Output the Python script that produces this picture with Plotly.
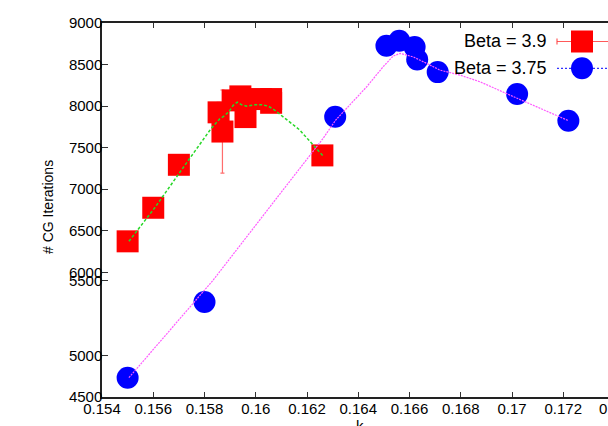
import plotly.graph_objects as go

# ---- data ----
k_b39 = [0.155, 0.156, 0.157, 0.15855, 0.1587, 0.1591, 0.1594, 0.1596, 0.1602, 0.1606, 0.1606, 0.1626]
cg_b39 = [6373, 6777, 7294, 7925, 7694, 8069, 8117, 7868, 8085, 8085, 8040, 7407]
err_b39 = [60, 80, 90, 120, 500, 100, 110, 120, 100, 90, 90, 100]

k_b375 = [0.155, 0.158, 0.1631, 0.1651, 0.1656, 0.1662, 0.1663, 0.1671, 0.1702, 0.1722]
cg_b375 = [4732, 5643, 7872, 8726, 8786, 8710, 8560, 8409, 8145, 7824]

# smoothed guide curves (as drawn)
k_fit39 = [0.15505, 0.15606, 0.15708, 0.15782, 0.15825, 0.15860, 0.15880, 0.15899, 0.15912,
           0.15928, 0.15945, 0.15964, 0.15997, 0.16023, 0.16049, 0.16075, 0.16101, 0.16127,
           0.16172, 0.16224, 0.16261]
cg_fit39 = [6373, 6777, 7222, 7547, 7727, 7848, 7888, 7949, 8009,
            8048, 8016, 8000, 8016, 8016, 8000, 7949, 7888, 7816,
            7712, 7531, 7407]

k_fit375 = [0.15505, 0.15834, 0.16094, 0.16263, 0.16312, 0.16367, 0.16433, 0.16497, 0.16536,
            0.16563, 0.16614, 0.16667, 0.16719, 0.16797, 0.16875, 0.17018, 0.17221]
cg_fit375 = [4732, 5907, 6942, 7612, 7832, 8012, 8233, 8473, 8602,
             8634, 8593, 8514, 8433, 8373, 8293, 8097, 7824]

ytick_vals = [4500, 5000, 5904, 6000, 6500, 7000, 7500, 8000, 8500, 9000]
ytick_text = ["4500", "5000", "5500", "6000", "6500", "7000", "7500", "8000", "8500", "9000"]
xtick_vals = [0.154, 0.156, 0.158, 0.160, 0.162, 0.164, 0.166, 0.168, 0.170, 0.172]
xtick_text = ["0.154", "0.156", "0.158", "0.16", "0.162", "0.164", "0.166", "0.168", "0.17", "0.172"]

FONT = "Liberation Sans, Arial, sans-serif"
W, H = 608, 426
L, T, B = 102, 23, 29
PW, PH = W - L, H - T - B

def px(x):  # pixel -> paper x
    return (x - L) / PW

def py(y):  # pixel -> paper y
    return (H - B - y) / PH

fig = go.Figure()

fig.add_trace(go.Scatter(
    x=k_b39, y=cg_b39, mode="markers", name="Beta = 3.9",
    marker=dict(symbol="square", size=22, color="#ff0000", line=dict(width=0)),
    error_y=dict(type="data", array=err_b39, color="rgba(255,60,60,0.75)", thickness=1.2, width=2),
    showlegend=False,
))
fig.add_trace(go.Scatter(
    x=k_b375, y=cg_b375, mode="markers", name="Beta = 3.75",
    marker=dict(symbol="circle", size=22, color="#0000ff", line=dict(width=0)),
    showlegend=False,
))
fig.add_trace(go.Scatter(
    x=k_fit39, y=cg_fit39, mode="lines",
    line=dict(color="rgb(40,215,40)", width=1.5, dash="3px,2px"),
    showlegend=False, hoverinfo="skip",
))
fig.add_trace(go.Scatter(
    x=k_fit375, y=cg_fit375, mode="lines",
    line=dict(color="rgb(255,90,255)", width=1.2, dash="2px,1px"),
    showlegend=False, hoverinfo="skip",
))

shapes = []
ly1, ly2 = 41.5, 68.3
shapes.append(dict(type="line", xref="paper", yref="paper", x0=px(557), x1=px(612), y0=py(ly1), y1=py(ly1),
                   line=dict(color="rgba(255,60,60,0.85)", width=1.2)))
shapes.append(dict(type="line", xref="paper", yref="paper", x0=px(557), x1=px(557), y0=py(ly1 - 3), y1=py(ly1 + 3),
                   line=dict(color="rgba(255,60,60,0.85)", width=1.2)))
shapes.append(dict(type="rect", xref="paper", yref="paper", x0=px(571), x1=px(593), y0=py(ly1 - 11), y1=py(ly1 + 11),
                   fillcolor="#ff0000", line=dict(width=0)))
shapes.append(dict(type="line", xref="paper", yref="paper", x0=px(557), x1=px(612), y0=py(ly2), y1=py(ly2),
                   line=dict(color="#3030ff", width=1.3, dash="2px,2px")))
shapes.append(dict(type="circle", xref="paper", yref="paper", x0=px(571), x1=px(593), y0=py(ly2 - 11), y1=py(ly2 + 11),
                   fillcolor="#0000ff", line=dict(width=0)))

annotations = [
    dict(text="Beta = 3.9", xref="paper", yref="paper", x=px(549), y=py(ly1), xanchor="right", yanchor="middle",
         showarrow=False, font=dict(family=FONT, size=18, color="black")),
    dict(text="Beta = 3.75", xref="paper", yref="paper", x=px(549), y=py(ly2), xanchor="right", yanchor="middle",
         showarrow=False, font=dict(family=FONT, size=18, color="black")),
    dict(text="# CG Iterations", xref="paper", yref="paper", x=px(48), y=py(207), textangle=-90,
         xanchor="center", yanchor="middle", showarrow=False, font=dict(family=FONT, size=14, color="black")),
    dict(text="k", xref="paper", yref="paper", x=px(360), y=py(415), xanchor="center", yanchor="top",
         showarrow=False, font=dict(family=FONT, size=15, color="black")),
    dict(text="0.174", xref="paper", yref="paper", x=px(618), y=py(398), xanchor="center", yanchor="top",
         showarrow=False, font=dict(family=FONT, size=15, color="black")),
]

fig.update_layout(
    width=W, height=H,
    margin=dict(l=L, r=0, t=T, b=B, pad=0),
    paper_bgcolor="white", plot_bgcolor="white",
    font=dict(family=FONT, size=15, color="black"),
    shapes=shapes, annotations=annotations,
    showlegend=False,
)
fig.update_xaxes(
    range=[0.154, 0.154 + PW / 25625.0], tickvals=xtick_vals, ticktext=xtick_text,
    ticks="inside", ticklen=5, tickwidth=1, tickcolor="#333",
    showline=True, linecolor="#222", linewidth=1.5, mirror="ticks",
    showgrid=False, zeroline=False, tickfont=dict(family=FONT, size=15, color="black"),
    ticklabelstandoff=-3,
)
fig.update_yaxes(
    range=[4500, 9000], tickvals=ytick_vals, ticktext=ytick_text,
    ticks="inside", ticklen=6, tickwidth=1, tickcolor="#333",
    showline=True, linecolor="#222", linewidth=1.5,
    showgrid=False, zeroline=False, tickfont=dict(family=FONT, size=15, color="black"),
    ticklabelstandoff=-5,
)

fig.write_html("out.html", config={"displayModeBar": False},
               post_script="document.body.style.margin='0';document.body.style.overflow='hidden';")
